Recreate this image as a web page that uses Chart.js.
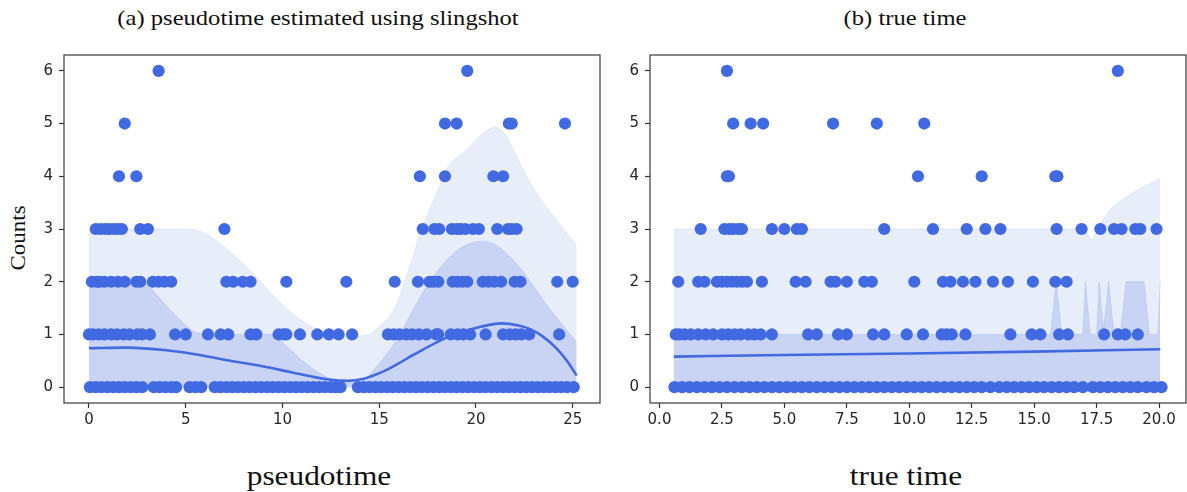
<!DOCTYPE html>
<html>
<head>
<meta charset="utf-8">
<script src="https://cdn.jsdelivr.net/npm/chart.js@4.4.1/dist/chart.umd.min.js"></script>
<style>
  html, body { margin: 0; padding: 0; background: #fff; }
  #wrap { position: relative; width: 1187px; height: 492px; overflow: hidden; }
  canvas { position: absolute; top: 0; }
  .txt { position: absolute; font-family: "Liberation Serif", "DejaVu Serif", serif; color: #111; white-space: nowrap; }
  .ttl { font-size: 21px; top: 6px; transform: translateX(-50%) scaleX(1.17); }
  .xl { font-size: 28px; top: 460px; transform: translateX(-50%) scaleX(1.12); }
</style>
</head>
<body>
<div id="wrap">
  <div class="txt ttl" style="left:318px;">(a) pseudotime estimated using slingshot</div>
  <div class="txt ttl" style="left:905px;">(b) true time</div>
  <div class="txt xl" style="left:319px;">pseudotime</div>
  <div class="txt xl" style="left:906px;">true time</div>
  <div class="txt" style="left:18px; top:238px; font-size:20px; transform: translate(-50%, -50%) rotate(-90deg) scaleX(1.15);">Counts</div>
  <div style="position:absolute; left:0; top:0; width:601px; height:440px;"><canvas id="left"></canvas></div>
  <div style="position:absolute; left:600px; top:0; width:587px; height:440px;"><canvas id="right"></canvas></div>
</div>
<script>
// ---- (a) pseudotime: observed counts, grouped by count value
const ptCount0 = [0.05, 0.35, 0.65, 0.95, 1.25, 1.55, 1.85, 2.15, 2.45, 2.75, 3.35, 3.65, 3.95,
  4.25, 4.5, 5.2, 5.5, 5.8, 6.5, 6.8, 7.1, 7.4, 7.7, 8.0, 8.3, 8.6, 8.9, 9.2, 9.5, 9.8, 10.1,
  10.4, 10.7, 11.0, 11.3, 11.6, 11.9, 12.2, 12.5, 12.75, 13.0, 13.9, 14.2, 14.5, 14.8, 15.1,
  15.4, 15.7, 16.0, 16.3, 16.6, 16.9, 17.2, 17.5, 17.8, 18.1, 18.4, 18.7, 19.0, 19.3, 19.6,
  19.9, 20.2, 20.5, 20.8, 21.1, 21.4, 21.7, 22.0, 22.3, 22.6, 22.9, 23.2, 23.5, 23.8, 24.1,
  24.4, 24.7, 25.05];
const ptCount1 = [0, 0.2, 0.5, 0.8, 1.15, 1.45, 1.8, 2.1, 2.5, 2.75, 3.15, 4.45, 5.0, 6.15, 6.8,
  7.2, 8.35, 8.65, 9.8, 10.05, 10.2, 10.9, 11.8, 12.4, 12.9, 13.6, 15.45, 15.75, 16.05, 16.4,
  16.7, 17.05, 17.45, 17.95, 18.05, 18.7, 19.05, 19.35, 19.7, 20.5, 21.4, 21.75, 22.05, 22.35,
  22.75, 24.3];
const ptCount2 = [0.15, 0.4, 0.55, 0.8, 1.15, 1.5, 1.85, 2.45, 2.65, 3.3, 3.6, 3.9, 4.25, 7.1,
  7.45, 7.95, 8.35, 10.2, 13.3, 15.8, 17.0, 17.6, 17.8, 18.05, 18.8, 19.05, 19.3, 19.55, 20.35,
  20.65, 20.95, 21.3, 22.0, 22.3, 24.2, 25.0];
const ptCount3 = [0.35, 0.6, 0.85, 1.05, 1.3, 1.5, 1.7, 2.65, 3.05, 7.0, 17.25, 17.85, 18.1,
  18.75, 19.0, 19.2, 19.45, 19.85, 20.15, 21.1, 21.65, 21.85, 22.1];
const ptCount4 = [1.55, 2.45, 17.1, 18.4, 20.9, 21.4];
const ptCount5 = [1.85, 18.4, 19.0, 21.7, 21.85, 24.6];
const ptCount6 = [3.6, 19.55];

// fitted mean and quantile bands (lower edge of both bands is 0)
const ptFitX = [0, 2, 4, 5.4, 7, 8.9, 10.5, 12.3, 13.4, 14.2, 15.1, 16, 16.8, 18.5, 20.3, 21.3, 22.2, 22.8, 23.5, 24.2, 24.8, 25.2];
const ptFitY = [0.74, 0.75, 0.7, 0.63, 0.52, 0.4, 0.28, 0.15, 0.12, 0.16, 0.28, 0.45, 0.62, 0.94, 1.15, 1.21, 1.17, 1.1, 0.95, 0.72, 0.45, 0.22];
const ptOuterX = [0, 5, 5.8, 6.5, 7.5, 8.5, 9.5, 10.5, 11.5, 12.5, 13.5, 14.3, 15, 15.8, 16.5, 17.2, 18, 18.5, 19.5, 20.5, 21, 21.5, 22.2, 23, 24, 25.2];
const ptOuterHi = [3, 3, 2.95, 2.8, 2.5, 2.15, 1.75, 1.4, 1.15, 1.02, 0.97, 0.98, 1.15, 1.5, 2.2, 3.0, 3.7, 4.15, 4.5, 4.85, 4.93, 4.8, 4.3, 3.75, 3.25, 2.68];
const ptInnerX = [0, 2.8, 3.5, 4.5, 5.6, 6.5, 9.4, 10.3, 11.2, 12.3, 13, 13.5, 14.2, 15, 15.9, 16.8, 17.7, 18.7, 19.5, 20.3, 21, 22.2, 23.7, 25.2];
const ptInnerHi = [2, 2, 1.75, 1.35, 1.03, 1.0, 1.0, 0.75, 0.45, 0.19, 0.1, 0.08, 0.15, 0.45, 0.9, 1.5, 2.05, 2.49, 2.7, 2.77, 2.7, 2.3, 1.54, 0.85];

// ---- (b) true time
const ttCount0 = [0.6, 0.9, 1.2, 1.5, 1.8, 2.1, 2.4, 2.7, 3.0, 3.3, 3.6, 3.9, 4.2, 4.5, 4.8, 5.1,
  5.4, 5.7, 6.0, 6.3, 6.6, 6.9, 7.2, 7.5, 7.8, 8.1, 8.4, 8.7, 9.0, 9.3, 9.6, 9.9, 10.2, 10.5,
  10.8, 11.1, 11.4, 11.7, 12.0, 12.3, 12.6, 12.9, 13.25, 13.6, 13.9, 14.2, 14.5, 14.8, 15.1,
  15.4, 15.7, 16.0, 16.3, 16.6, 16.95, 17.35, 17.65, 17.95, 18.25, 18.55, 18.85, 19.15, 19.5,
  19.8, 20.1];
const ttCount1 = [0.65, 0.8, 1.0, 1.25, 1.55, 1.85, 2.15, 2.5, 2.75, 3.0, 3.25, 3.55, 3.8, 4.05,
  4.5, 5.95, 6.3, 7.15, 7.5, 8.55, 9.0, 9.9, 10.55, 11.3, 11.5, 11.7, 12.25, 14.05, 14.9, 15.25,
  16.0, 16.35, 17.8, 18.35, 18.65, 19.15];
const ttCount2 = [0.75, 1.55, 1.8, 2.3, 2.5, 2.7, 2.9, 3.1, 3.3, 3.5, 4.1, 5.45, 5.85, 6.85, 7.05,
  7.5, 8.2, 8.5, 10.2, 11.35, 11.65, 12.15, 12.65, 13.35, 13.95, 14.95, 15.85, 16.3];
const ttCount3 = [1.65, 2.6, 2.8, 2.95, 3.15, 3.3, 4.5, 5.0, 5.5, 5.7, 9.0, 10.95, 12.3, 13.05,
  13.65, 15.9, 16.9, 17.65, 18.2, 18.5, 19.05, 19.25, 19.9];
const ttCount4 = [2.7, 2.78, 10.35, 12.9, 15.85, 15.93];
const ttCount5 = [2.95, 3.65, 4.15, 6.95, 8.7, 10.6];
const ttCount6 = [2.7, 18.35];

const ttFitX = [0.57, 5, 10, 15, 20.05];
const ttFitY = [0.58, 0.61, 0.64, 0.675, 0.72];
const ttOuterX = [0.57, 17.0, 17.3, 17.55, 17.8, 18.1, 18.5, 19, 19.5, 20.05];
const ttOuterHi = [3, 3, 2.8, 3.0, 3.2, 3.4, 3.55, 3.7, 3.83, 3.97];
const ttInnerX = [0.57, 15.65, 15.89, 16.1, 16.95, 17.05, 17.25, 17.5, 17.6, 17.78, 17.98, 18.2, 18.45, 18.68, 19.4, 19.62, 19.95, 20.05];
const ttInnerHi = [1, 1, 2, 1, 1, 2, 1, 1, 2, 1.1, 2, 1, 1, 2, 2, 1, 1, 2];

const BLUE = '#4169e1';

function pts(xs, ys) {
  return xs.map((x, i) => ({ x: x, y: Array.isArray(ys) ? ys[i] : ys }));
}

// frame around the plotting area
const boxPlugin = {
  id: 'box',
  afterDraw(chart) {
    const a = chart.chartArea;
    const ctx = chart.ctx;
    ctx.save();
    ctx.strokeStyle = '#3a3a3a';
    ctx.lineWidth = 1.2;
    ctx.strokeRect(a.left, a.top, a.right - a.left, a.bottom - a.top);
    ctx.restore();
  }
};

function makeChart(id, rows, fitX, fitY, outX, outHi, inX, inHi, xr, step, yAxisW, smooth, fmt) {
  const datasets = [];
  rows.forEach((xs, count) => {
    datasets.push({
      type: 'scatter', data: pts(xs, count), backgroundColor: BLUE, borderWidth: 0,
      pointRadius: 6.1, pointHoverRadius: 6.1, order: 0
    });
  });
  datasets.push({
    type: 'line', data: pts(fitX, fitY), borderColor: BLUE, borderWidth: 2.6, pointRadius: 0,
    fill: false, cubicInterpolationMode: 'monotone', order: 1
  });
  datasets.push({
    type: 'line', data: pts(inX, inHi), borderColor: 'rgba(65,105,225,0.15)', borderWidth: 1,
    backgroundColor: '#c9d4f4', pointRadius: 0, fill: 'origin',
    cubicInterpolationMode: smooth ? 'monotone' : 'default', tension: 0, order: 2
  });
  datasets.push({
    type: 'line', data: pts(outX, outHi), borderColor: 'rgba(65,105,225,0.1)', borderWidth: 1,
    backgroundColor: '#e8edfa', pointRadius: 0, fill: 'origin',
    cubicInterpolationMode: 'monotone', order: 3
  });

  const tickFont = { family: 'DejaVu Sans', size: 15 };
  new Chart(document.getElementById(id), {
    type: 'scatter',
    data: { datasets: datasets },
    plugins: [boxPlugin],
    options: {
      responsive: true,
      maintainAspectRatio: false,
      animation: false,
      events: [],
      layout: { autoPadding: false, padding: { top: 55, right: 1, left: 0, bottom: 0 } },
      plugins: { legend: { display: false }, tooltip: { enabled: false } },
      scales: {
        x: {
          type: 'linear', min: xr[0], max: xr[1],
          afterFit(s) { s.height = 37; s.paddingLeft = 0; s.paddingRight = 0; },
          border: { display: false },
          grid: { drawOnChartArea: false, drawTicks: true, tickLength: 5, tickColor: '#333', tickWidth: 1.2 },
          ticks: { stepSize: step, includeBounds: false, color: '#262626', font: tickFont, padding: 3,
                   maxRotation: 0, autoSkip: false, callback: fmt }
        },
        y: {
          min: -0.3, max: 6.3,
          afterFit(s) { s.width = yAxisW; s.paddingTop = 0; s.paddingBottom = 0; },
          border: { display: false },
          grid: { drawOnChartArea: false, drawTicks: true, tickLength: 5, tickColor: '#333', tickWidth: 1.2 },
          ticks: { stepSize: 1, includeBounds: false, color: '#262626', font: tickFont, padding: 6 }
        }
      }
    }
  });
}

makeChart('left',
  [ptCount0, ptCount1, ptCount2, ptCount3, ptCount4, ptCount5, ptCount6],
  ptFitX, ptFitY, ptOuterX, ptOuterHi, ptInnerX, ptInnerHi,
  [-1.29, 26.41], 5, 64, true, v => String(v));

makeChart('right',
  [ttCount0, ttCount1, ttCount2, ttCount3, ttCount4, ttCount5, ttCount6],
  ttFitX, ttFitY, ttOuterX, ttOuterHi, ttInnerX, ttInnerHi,
  [-0.38, 21.08], 2.5, 50, false, v => v.toFixed(1));
</script>
</body>
</html>
